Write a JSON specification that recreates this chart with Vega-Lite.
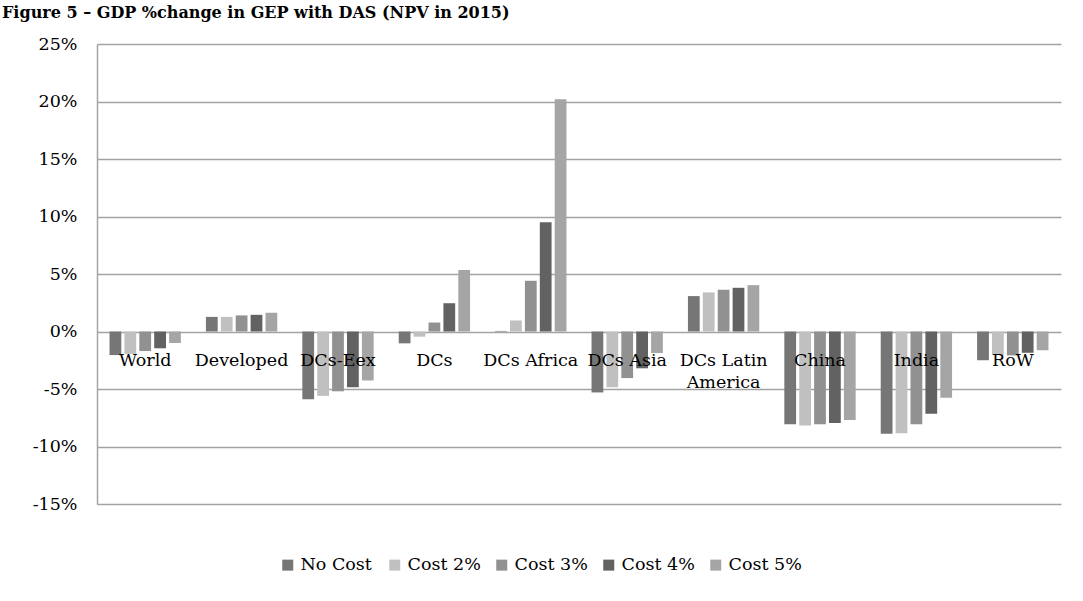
{
  "$schema": "https://vega.github.io/schema/vega-lite/v6.json",
  "width": 964,
  "height": 460,
  "autosize": {"type": "none"},
  "padding": {"left": 97, "top": 44, "right": 22, "bottom": 97},
  "background": "white",
  "title": {
    "text": "Figure 5 – GDP %change in GEP with DAS (NPV in 2015)",
    "anchor": "start",
    "frame": "group",
    "dx": -95,
    "offset": 1,
    "baseline": "alphabetic",
    "font": "DejaVu Serif",
    "fontSize": 16,
    "fontWeight": "bold",
    "color": "black"
  },
  "config": {"view": {"stroke": null}},
  "data": {
    "values": [
      {"region": "World", "series": "No Cost", "value": -2.05},
      {"region": "World", "series": "Cost 2%", "value": -1.95},
      {"region": "World", "series": "Cost 3%", "value": -1.7},
      {"region": "World", "series": "Cost 4%", "value": -1.46},
      {"region": "World", "series": "Cost 5%", "value": -1.0},
      {"region": "Developed", "series": "No Cost", "value": 1.27},
      {"region": "Developed", "series": "Cost 2%", "value": 1.27},
      {"region": "Developed", "series": "Cost 3%", "value": 1.4},
      {"region": "Developed", "series": "Cost 4%", "value": 1.45},
      {"region": "Developed", "series": "Cost 5%", "value": 1.63},
      {"region": "DCs-Eex", "series": "No Cost", "value": -5.9},
      {"region": "DCs-Eex", "series": "Cost 2%", "value": -5.6},
      {"region": "DCs-Eex", "series": "Cost 3%", "value": -5.2},
      {"region": "DCs-Eex", "series": "Cost 4%", "value": -4.85},
      {"region": "DCs-Eex", "series": "Cost 5%", "value": -4.26},
      {"region": "DCs", "series": "No Cost", "value": -1.03},
      {"region": "DCs", "series": "Cost 2%", "value": -0.45},
      {"region": "DCs", "series": "Cost 3%", "value": 0.78},
      {"region": "DCs", "series": "Cost 4%", "value": 2.46},
      {"region": "DCs", "series": "Cost 5%", "value": 5.35},
      {"region": "DCs Africa", "series": "No Cost", "value": 0.05},
      {"region": "DCs Africa", "series": "Cost 2%", "value": 0.96},
      {"region": "DCs Africa", "series": "Cost 3%", "value": 4.41},
      {"region": "DCs Africa", "series": "Cost 4%", "value": 9.51},
      {"region": "DCs Africa", "series": "Cost 5%", "value": 20.2},
      {"region": "DCs Asia", "series": "No Cost", "value": -5.3},
      {"region": "DCs Asia", "series": "Cost 2%", "value": -4.85},
      {"region": "DCs Asia", "series": "Cost 3%", "value": -4.05},
      {"region": "DCs Asia", "series": "Cost 4%", "value": -3.2},
      {"region": "DCs Asia", "series": "Cost 5%", "value": -1.87},
      {"region": "DCs Latin America", "series": "No Cost", "value": 3.08},
      {"region": "DCs Latin America", "series": "Cost 2%", "value": 3.4},
      {"region": "DCs Latin America", "series": "Cost 3%", "value": 3.63},
      {"region": "DCs Latin America", "series": "Cost 4%", "value": 3.8},
      {"region": "DCs Latin America", "series": "Cost 5%", "value": 4.03},
      {"region": "China", "series": "No Cost", "value": -8.06},
      {"region": "China", "series": "Cost 2%", "value": -8.17},
      {"region": "China", "series": "Cost 3%", "value": -8.06},
      {"region": "China", "series": "Cost 4%", "value": -7.95},
      {"region": "China", "series": "Cost 5%", "value": -7.7},
      {"region": "India", "series": "No Cost", "value": -8.9},
      {"region": "India", "series": "Cost 2%", "value": -8.85},
      {"region": "India", "series": "Cost 3%", "value": -8.06},
      {"region": "India", "series": "Cost 4%", "value": -7.16},
      {"region": "India", "series": "Cost 5%", "value": -5.77},
      {"region": "RoW", "series": "No Cost", "value": -2.5},
      {"region": "RoW", "series": "Cost 2%", "value": -2.05},
      {"region": "RoW", "series": "Cost 3%", "value": -2.08},
      {"region": "RoW", "series": "Cost 4%", "value": -1.85},
      {"region": "RoW", "series": "Cost 5%", "value": -1.63}
    ]
  },
  "mark": {"type": "bar"},
  "encoding": {
    "x": {
      "field": "region",
      "type": "nominal",
      "sort": ["World", "Developed", "DCs-Eex", "DCs", "DCs Africa", "DCs Asia", "DCs Latin America", "China", "India", "RoW"],
      "scale": {"paddingInner": 0.26, "paddingOuter": 0.13},
      "axis": {
        "title": null,
        "orient": "bottom",
        "offset": -172,
        "zindex": 1,
        "domain": false,
        "ticks": false,
        "labelAngle": 0,
        "labelPadding": 19,
        "labelFont": "DejaVu Serif",
        "labelFontSize": 17.5,
        "labelColor": "black",
        "labelLineHeight": 22,
        "labelExpr": "datum.value == 'DCs Latin America' ? ['DCs Latin', 'America'] : datum.value"
      }
    },
    "xOffset": {
      "field": "series",
      "type": "nominal",
      "sort": ["No Cost", "Cost 2%", "Cost 3%", "Cost 4%", "Cost 5%"],
      "scale": {"paddingInner": 0.21, "paddingOuter": 0}
    },
    "y": {
      "field": "value",
      "type": "quantitative",
      "scale": {"domain": [-15, 25], "nice": false},
      "axis": {
        "title": null,
        "values": [-15, -10, -5, 0, 5, 10, 15, 20, 25],
        "labelExpr": "datum.value + '%'",
        "grid": true,
        "gridColor": "#a3a3a3",
        "gridWidth": 1.5,
        "domainColor": "#a3a3a3",
        "domainWidth": 1.5,
        "ticks": false,
        "labelPadding": 20,
        "labelFont": "DejaVu Serif",
        "labelFontSize": 17.5,
        "labelColor": "black",
        "zindex": 0
      }
    },
    "color": {
      "field": "series",
      "type": "nominal",
      "scale": {
        "domain": ["No Cost", "Cost 2%", "Cost 3%", "Cost 4%", "Cost 5%"],
        "range": ["#767676", "#c0c0c0", "#919191", "#626262", "#a5a5a5"]
      },
      "legend": {
        "title": null,
        "orient": "none",
        "legendX": 182,
        "legendY": 512,
        "padding": 0,
        "direction": "horizontal",
        "gridAlign": "all",
        "columnPadding": 12,
        "symbolType": "square",
        "symbolSize": 121,
        "symbolStrokeWidth": 0,
        "symbolOpacity": 1,
        "labelOffset": 4,
        "labelFont": "DejaVu Serif",
        "labelFontSize": 17.5,
        "labelColor": "black"
      }
    }
  }
}
